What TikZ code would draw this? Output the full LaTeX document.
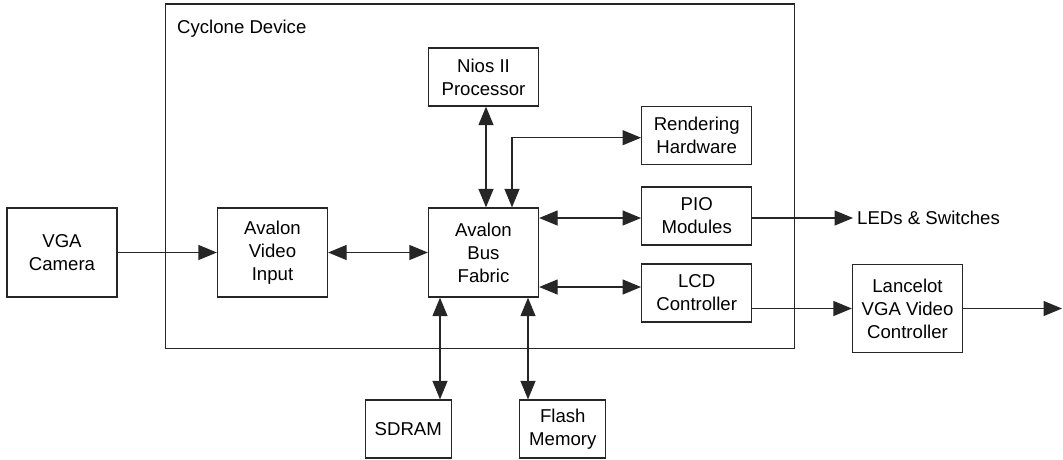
\documentclass[tikz,border=0pt]{standalone}
\usepackage{fontspec}
\setmainfont{Liberation Sans}
\usepackage{tikz}
\usetikzlibrary{positioning,arrows.meta}

\begin{document}
\begin{tikzpicture}[x=1pt, y=-1pt,
  font=\fontsize{18.6}{23}\selectfont,
  blk/.style={draw=black!85, line width=1.3pt, align=center,
    minimum width=110pt, minimum height=58pt, inner sep=2pt},
  tall/.style={blk, minimum height=89pt},
  mem/.style={blk, minimum width=86pt},
  conn/.style={draw=black!85, line width=1.3pt},
  one/.style={conn, -{Triangle[length=18.5pt,width=15pt]}},
  both/.style={conn, {Triangle[length=18.5pt,width=15pt]}-{Triangle[length=18.5pt,width=15pt]}}]
\useasboundingbox (0,0) rectangle (1063,459);
\draw[conn] (165.7,4) rectangle (794.3,348.3);
\node[anchor=west, inner sep=0pt] (dev) at (177,29) {Cyclone Device};
\node[tall] (cam)   at (62,252.5)    {VGA\\ Camera};
\node[tall] (vin)   at (272.5,252.5) {Avalon\\ Video\\ Input};
\node[tall] (bus)   at (483.5,252.5) {Avalon\\ Bus\\ Fabric};
\node[blk]  (nios)  at (483.5,77)    {Nios II\\ Processor};
\node[blk]  (rend)  at (696.7,135.7) {Rendering\\ Hardware};
\node[blk]  (pio)   at (696.7,216)   {PIO\\ Modules};
\node[blk]  (lcd)   at (696.7,293)   {LCD\\ Controller};
\node[tall, minimum height=88pt] (lance) at (907.5,308.5) {Lancelot\\ VGA Video\\ Controller};
\node[mem]  (sdram) at (408.3,429)   {SDRAM};
\node[mem]  (flash) at (562.8,429)   {Flash\\ Memory};
\node[anchor=west, inner sep=4pt] (leds) at (853,218) {LEDs \& Switches};
\coordinate (out) at (1062,308.5);
\draw[one] (cam) -- (vin);
\draw[both] (vin) -- (bus);
\draw[both] ([xshift=2.5pt]nios.south) -- ([xshift=2.5pt]nios.south |- bus.north);
\draw[both] ([yshift=-2pt]rend.west) -| ([xshift=28.5pt]bus.north);
\draw[both] ([yshift=-2pt]pio.west) -- ([yshift=-2pt]pio.west -| bus.east);
\draw[both] ([yshift=6pt]lcd.west) -- ([yshift=6pt]lcd.west -| bus.east);
\draw[one] (pio.east |- leds.west) -- (leds.west);
\draw[one] (lance.west -| lcd.east) -- (lance.west);
\draw[one] (lance.east) -- (out);
\draw[both] ([xshift=-43.5pt]bus.south) -- ([xshift=-43.5pt]bus.south |- sdram.north);
\draw[both] ([xshift=44.5pt]bus.south) -- ([xshift=44.5pt]bus.south |- flash.north);
\end{tikzpicture}
\end{document}
